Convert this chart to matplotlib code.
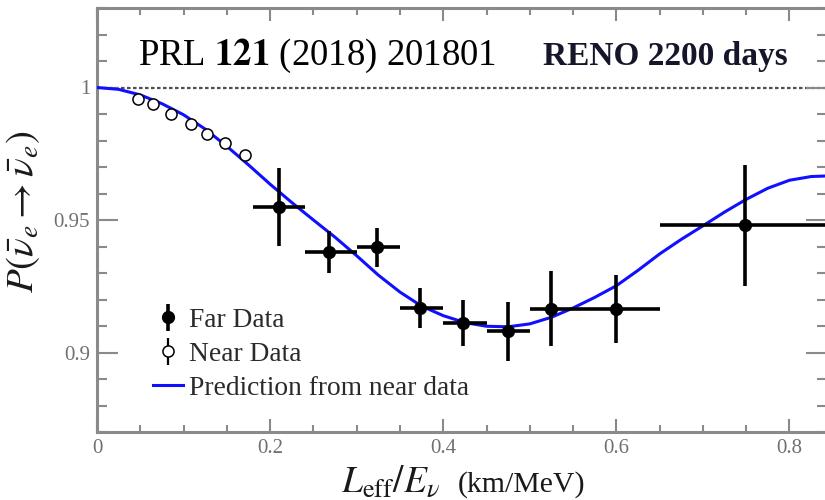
import matplotlib
matplotlib.use("Agg")
import matplotlib.pyplot as plt
from matplotlib.ticker import MultipleLocator
from matplotlib.legend_handler import HandlerErrorbar
from matplotlib.container import ErrorbarContainer

# ---- data ----
far_x = [0.210, 0.268, 0.323, 0.373, 0.423, 0.475, 0.525, 0.600, 0.749]
far_y = [0.9548, 0.9378, 0.9397, 0.9169, 0.9112, 0.9080, 0.9166, 0.9165, 0.9480]
far_yerr = [0.0147, 0.0079, 0.0074, 0.0075, 0.0088, 0.0111, 0.0140, 0.0129, 0.0228]
far_bin_lo = [0.18, 0.24, 0.30, 0.35, 0.40, 0.45, 0.50, 0.55, 0.65]
far_bin_hi = [0.24, 0.30, 0.35, 0.40, 0.45, 0.50, 0.55, 0.65, 0.85]

near_x = [0.047, 0.065, 0.086, 0.108, 0.127, 0.148, 0.171]
near_y = [0.9955, 0.9937, 0.9900, 0.9862, 0.9825, 0.9792, 0.9744]
near_yerr = [0.0012, 0.0012, 0.0013, 0.0013, 0.0014, 0.0015, 0.0016]

pred_x = [0.000, 0.025, 0.050, 0.075, 0.100, 0.125, 0.150, 0.175, 0.200, 0.225,
          0.250, 0.275, 0.300, 0.325, 0.350, 0.375, 0.400, 0.425, 0.450, 0.475,
          0.500, 0.525, 0.550, 0.575, 0.600, 0.625, 0.650, 0.675, 0.700, 0.725,
          0.750, 0.775, 0.800, 0.825, 0.850]
pred_y = [1.0000, 0.9993, 0.9972, 0.9939, 0.9897, 0.9843, 0.9778, 0.9708, 0.9635, 0.9566,
          0.9500, 0.9435, 0.9365, 0.9292, 0.9228, 0.9175, 0.9139, 0.9113, 0.9099, 0.9097,
          0.9108, 0.9133, 0.9168, 0.9208, 0.9252, 0.9310, 0.9372, 0.9427, 0.9478, 0.9530,
          0.9578, 0.9620, 0.9650, 0.9664, 0.9667]

x_ticks = [0.0, 0.2, 0.4, 0.6, 0.8]
x_ticklabels = ["0", "0.2", "0.4", "0.6", "0.8"]
y_ticks = [0.90, 0.95, 1.00]
y_ticklabels = ["0.9", "0.95", "1"]

# ---- style ----
plt.rcParams["font.family"] = ["Liberation Serif", "DejaVu Serif"]
plt.rcParams["mathtext.fontset"] = "stix"

GREY = "#8a8a8a"
TICKTXT = "#707070"
W, H = 825, 500

fig = plt.figure(figsize=(W / 100, H / 100), dpi=100)
ax = fig.add_axes([0.1176, 0.136, 0.8848, 0.848])
ax.set_xlim(0.0, 0.8433)
ax.set_ylim(0.87, 1.03)

# unity reference line
ax.axhline(1.0, color="#505050", lw=1.6, ls=(0, (1.6, 1.1)), zorder=1)

# prediction curve
curve, = ax.plot(pred_x, pred_y, color="#1010ff", lw=2.2, zorder=3)

# far detector points
xerr_lo = [c - lo for c, lo in zip(far_x, far_bin_lo)]
xerr_hi = [hi - c for c, hi in zip(far_x, far_bin_hi)]
far = ax.errorbar(far_x, far_y, yerr=far_yerr, xerr=[xerr_lo, xerr_hi], fmt="o",
                  color="black", ms=8.5, elinewidth=2.6, capsize=0, zorder=4)

# near detector points
near = ax.errorbar(near_x, near_y, yerr=near_yerr, fmt="o", mfc="white", mec="black",
                   ecolor="black", ms=8, mew=1.1, elinewidth=1.6, capsize=0, zorder=5)

# ticks and spines
ax.xaxis.set_minor_locator(MultipleLocator(0.05))
ax.yaxis.set_minor_locator(MultipleLocator(0.01))
ax.set_xticks(x_ticks)
ax.set_xticklabels(x_ticklabels)
ax.set_yticks(y_ticks)
ax.set_yticklabels(y_ticklabels)

ax.tick_params(axis="both", which="both", direction="in", color=GREY,
               top=True, right=True, labelcolor=TICKTXT, labelsize=15)
ax.tick_params(axis="y", which="major", length=15, width=1.5, pad=5)
ax.tick_params(axis="y", which="minor", length=7, width=1.5)
ax.tick_params(axis="x", which="major", length=9.5, width=1.5, pad=5)
ax.tick_params(axis="x", which="minor", length=5, width=1.5)
for s in ax.spines.values():
    s.set_color(GREY)
    s.set_linewidth(2.2)

# axis titles
ax.set_ylabel(r"$P(\bar{\nu}_e \rightarrow \bar{\nu}_e)$", fontsize=28, color="#1a1a1a")
ax.yaxis.set_label_coords(-0.075, 0.519)
fig.text(440 / W, 1 - 492 / H, r"$L_{\mathrm{eff}}/E_{\nu}$", fontsize=27,
         color="#1a1a1a", ha="right", va="baseline")
fig.text(458 / W, 1 - 492 / H, "(km/MeV)", fontsize=21.5,
         color="#1a1a1a", ha="left", va="baseline")

# annotations
fig.text(138 / W, 1 - 65 / H, r"PRL $\mathbf{121}$ (2018) 201801",
         fontsize=26.5, color="black", va="baseline", ha="left")
fig.text(543 / W, 1 - 65 / H, "RENO 2200 days", fontsize=24,
         fontweight="bold", color="#16162a", va="baseline", ha="left")

# legend
eb_handler = HandlerErrorbar(xerr_size=0.0, yerr_size=0.48)
leg = ax.legend([far, near, curve],
                ["Far Data", "Near Data", "Prediction from near data"],
                loc="upper left", bbox_to_anchor=(0.0767, 0.293), frameon=False,
                fontsize=19.8, handlelength=1.08, handletextpad=0.22,
                labelspacing=0.32, borderpad=0.0, borderaxespad=0.0,
                handler_map={ErrorbarContainer: eb_handler})
for t in leg.get_texts():
    t.set_color("#2a2a2a")

fig.savefig("out.png", dpi=100)
